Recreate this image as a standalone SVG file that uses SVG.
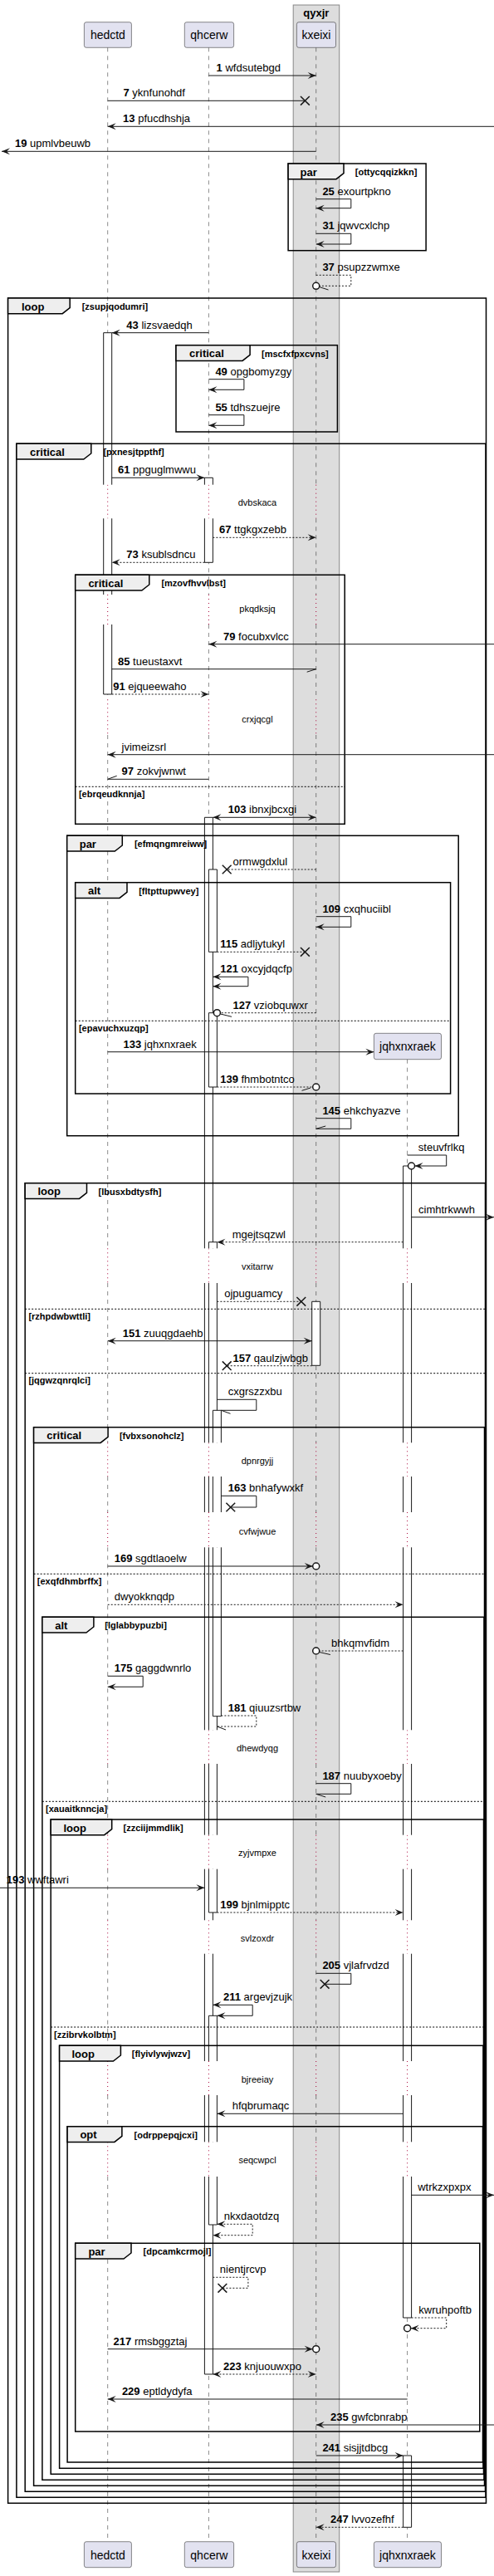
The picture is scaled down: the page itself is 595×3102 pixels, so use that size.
<svg xmlns="http://www.w3.org/2000/svg" width="595" height="3102" viewBox="0 0 595 3102">
<style>
.t{font-family:"Liberation Sans",Arial,sans-serif;font-size:13px;fill:#000}
.b{font-weight:bold}
.pt{font-family:"Liberation Sans",Arial,sans-serif;font-size:14px;fill:#000;text-anchor:middle}
.dt{font-family:"Liberation Sans",Arial,sans-serif;font-size:11px;fill:#000;text-anchor:middle}
.kd{font-family:"Liberation Sans",Arial,sans-serif;font-size:13px;font-weight:bold;fill:#000}
.gd{font-family:"Liberation Sans",Arial,sans-serif;font-size:11px;font-weight:bold;fill:#000}
.pb{fill:#E2E2F0;stroke:#181818;stroke-width:0.5}
.ll{stroke:#181818;stroke-width:0.5;stroke-dasharray:5,5;fill:none}
.dl{stroke:#A80036;stroke-width:1;stroke-dasharray:1,4;fill:none}
.fr{fill:none;stroke:#000;stroke-width:1.5}
.tab{fill:#EEEEEE;stroke:#000;stroke-width:1.5}
.el{stroke:#000;stroke-width:1;stroke-dasharray:2,2;fill:none}
.ar{fill:#fff;stroke:none}
.al{fill:none;stroke:#181818;stroke-width:1}
.m{fill:none;stroke:#181818;stroke-width:1}
.ds{stroke-dasharray:2,2}
.x{stroke:#181818;stroke-width:1.5;fill:none}
.c{fill:#fff;stroke:#181818;stroke-width:1.5}
</style>
<defs>
<marker id="a" viewBox="-11 -5 12 10" refX="0" refY="0" markerWidth="12" markerHeight="10" markerUnits="userSpaceOnUse" orient="auto-start-reverse"><path d="M0,0 L-10,-4 L-6,0 L-10,4 Z" fill="#181818"/></marker>
</defs>

<g id="box-qyxjr">
<rect x="353.2" y="6" width="55.5" height="3091" fill="#DDDDDD" stroke="#888" stroke-width="1"/>
<text class="kd" x="380.9" y="19.5" text-anchor="middle">qyxjr</text>
</g>

<g id="lifelines">
<path class="ll" d="M129.7,57.3V583.7M129.7,624.3V716M129.7,752V842.3M129.7,885V1503.3M129.7,1545V1737.3M129.7,1778V1821M129.7,1863.3V2083.3M129.7,2124V2209.7M129.7,2250.7V2312.3M129.7,2352.7V2482M129.7,2523V2579.3M129.7,2621V3060.7"/>
<path class="ll" d="M251.4,57.3V583.7M251.4,624.3V716M251.4,752V842.3M251.4,885V1503.3M251.4,1545V1737.3M251.4,1778V1821M251.4,1863.3V2083.3M251.4,2124V2209.7M251.4,2250.7V2312.3M251.4,2352.7V2482M251.4,2523V2579.3M251.4,2621V3060.7"/>
<path class="ll" d="M380.7,57.3V583.7M380.7,624.3V716M380.7,752V842.3M380.7,885V1503.3M380.7,1545V1737.3M380.7,1778V1821M380.7,1863.3V2083.3M380.7,2124V2209.7M380.7,2250.7V2312.3M380.7,2352.7V2482M380.7,2523V2579.3M380.7,2621V3060.7"/>
<path class="ll" d="M490.6,1275.7V1503.3M490.6,1545V1737.3M490.6,1778V1821M490.6,1863.3V2083.3M490.6,2124V2209.7M490.6,2250.7V2312.3M490.6,2352.7V2482M490.6,2523V2579.3M490.6,2621V3060.7"/>
<path class="dl" d="M129.7,583.7V624.3M251.4,583.7V624.3M380.7,583.7V624.3M129.7,716V752M251.4,716V752M380.7,716V752M129.7,842.3V885M251.4,842.3V885M380.7,842.3V885"/>
<path class="dl" d="M129.7,1503.3V1545M251.4,1503.3V1545M380.7,1503.3V1545M490.6,1503.3V1545M129.7,1737.3V1778M251.4,1737.3V1778M380.7,1737.3V1778M490.6,1737.3V1778M129.7,1821V1863.3M251.4,1821V1863.3M380.7,1821V1863.3M490.6,1821V1863.3M129.7,2083.3V2124M251.4,2083.3V2124M380.7,2083.3V2124M490.6,2083.3V2124M129.7,2209.7V2250.7M251.4,2209.7V2250.7M380.7,2209.7V2250.7M490.6,2209.7V2250.7M129.7,2312.3V2352.7M251.4,2312.3V2352.7M380.7,2312.3V2352.7M490.6,2312.3V2352.7M129.7,2482V2523M251.4,2482V2523M380.7,2482V2523M490.6,2482V2523M129.7,2579.3V2621M251.4,2579.3V2621M380.7,2579.3V2621M490.6,2579.3V2621"/>
</g>

<g id="delays">
<text class="dt" x="310" y="609.3">dvbskaca</text>
<text class="dt" x="310" y="737.3">pkqdksjq</text>
<text class="dt" x="310" y="869.7">crxjqcgl</text>
<text class="dt" x="310" y="1529">vxitarrw</text>
<text class="dt" x="310" y="1762.7">dpnrgyjj</text>
<text class="dt" x="310" y="1848.3">cvfwjwue</text>
<text class="dt" x="310" y="2108.7">dhewdyqg</text>
<text class="dt" x="310" y="2235.3">zyjvmpxe</text>
<text class="dt" x="310" y="2337.7">svlzoxdr</text>
<text class="dt" x="310" y="2507.7">bjreeiay</text>
<text class="dt" x="310" y="2605">seqcwpcl</text>
</g>

<g id="activations">
<g id="act-hedctd-1">
<rect class="ar" x="124.7" y="400.7" width="10" height="183"/><rect class="ar" x="124.7" y="624.3" width="10" height="91.7"/><rect class="ar" x="124.7" y="752" width="10" height="84"/>
<path class="al" d="M124.7,400.7H134.7M124.7,400.7V583.7M134.7,400.7V583.7M124.7,624.3V716M134.7,624.3V716M124.7,752V836M134.7,752V836M124.7,836H134.7"/>
</g>
<g id="act-qhcerw-1">
<rect class="ar" x="246.4" y="575.3" width="10" height="8.4"/><rect class="ar" x="246.4" y="624.3" width="10" height="53"/>
<path class="al" d="M246.4,575.3H256.4M246.4,575.3V583.7M256.4,575.3V583.7M246.4,624.3V677.3M256.4,624.3V677.3M246.4,677.3H256.4"/>
</g>
<g id="act-qhcerw-2">
<rect class="ar" x="246.4" y="984.3" width="10" height="519"/><rect class="ar" x="246.4" y="1545" width="10" height="192.3"/><rect class="ar" x="246.4" y="1778" width="10" height="43"/><rect class="ar" x="246.4" y="1863.3" width="10" height="220"/><rect class="ar" x="246.4" y="2124" width="10" height="85.7"/><rect class="ar" x="246.4" y="2250.7" width="10" height="61.6"/><rect class="ar" x="246.4" y="2352.7" width="10" height="129.3"/><rect class="ar" x="246.4" y="2523" width="10" height="56.3"/><rect class="ar" x="246.4" y="2621" width="10" height="238"/>
<path class="al" d="M246.4,984.3H256.4M246.4,984.3V1503.3M256.4,984.3V1503.3M246.4,1545V1737.3M256.4,1545V1737.3M246.4,1778V1821M256.4,1778V1821M246.4,1863.3V2083.3M256.4,1863.3V2083.3M246.4,2124V2209.7M256.4,2124V2209.7M246.4,2250.7V2312.3M256.4,2250.7V2312.3M246.4,2352.7V2482M256.4,2352.7V2482M246.4,2523V2579.3M256.4,2523V2579.3M246.4,2621V2859M256.4,2621V2859M246.4,2859H256.4"/>
</g>
<g id="act-qhcerw-3">
<rect class="ar" x="251.4" y="1047" width="10" height="99.3"/>
<path class="al" d="M251.4,1047H261.4V1146.3H251.4Z"/>
</g>
<g id="act-qhcerw-4">
<rect class="ar" x="251.4" y="1219.7" width="10" height="89.3"/>
<path class="al" d="M251.4,1219.7H261.4V1309H251.4Z"/>
</g>
<g id="act-qhcerw-5">
<rect class="ar" x="251.4" y="1495.7" width="10" height="7.6"/><rect class="ar" x="251.4" y="1545" width="10" height="192.3"/><rect class="ar" x="251.4" y="1778" width="10" height="43"/><rect class="ar" x="251.4" y="1863.3" width="10" height="220"/><rect class="ar" x="251.4" y="2124" width="10" height="85.7"/><rect class="ar" x="251.4" y="2250.7" width="10" height="52.3"/>
<path class="al" d="M251.4,1495.7H261.4M251.4,1495.7V1503.3M261.4,1495.7V1503.3M251.4,1545V1737.3M261.4,1545V1737.3M251.4,1778V1821M261.4,1778V1821M251.4,1863.3V2083.3M261.4,1863.3V2083.3M251.4,2124V2209.7M261.4,2124V2209.7M251.4,2250.7V2303M261.4,2250.7V2303M251.4,2303H261.4"/>
</g>
<g id="act-qhcerw-6">
<rect class="ar" x="256.4" y="1698.3" width="10" height="39"/><rect class="ar" x="256.4" y="1778" width="10" height="43"/><rect class="ar" x="256.4" y="1863.3" width="10" height="203.4"/>
<path class="al" d="M256.4,1698.3H266.4M256.4,1698.3V1737.3M266.4,1698.3V1737.3M256.4,1778V1821M266.4,1778V1821M256.4,1863.3V2066.7M266.4,1863.3V2066.7M256.4,2066.7H266.4"/>
</g>
<g id="act-qhcerw-7">
<rect class="ar" x="251.4" y="2427.3" width="10" height="54.7"/><rect class="ar" x="251.4" y="2523" width="10" height="56.3"/><rect class="ar" x="251.4" y="2621" width="10" height="58"/>
<path class="al" d="M251.4,2427.3H261.4M251.4,2427.3V2482M261.4,2427.3V2482M251.4,2523V2579.3M261.4,2523V2579.3M251.4,2621V2679M261.4,2621V2679M251.4,2679H261.4"/>
</g>
<g id="act-jqhxnxraek-1">
<rect class="ar" x="485.6" y="1404" width="10" height="99.3"/><rect class="ar" x="485.6" y="1545" width="10" height="192.3"/><rect class="ar" x="485.6" y="1778" width="10" height="43"/><rect class="ar" x="485.6" y="1863.3" width="10" height="220"/><rect class="ar" x="485.6" y="2124" width="10" height="85.7"/><rect class="ar" x="485.6" y="2250.7" width="10" height="61.6"/><rect class="ar" x="485.6" y="2352.7" width="10" height="129.3"/><rect class="ar" x="485.6" y="2523" width="10" height="56.3"/><rect class="ar" x="485.6" y="2621" width="10" height="170"/>
<path class="al" d="M485.6,1404H495.6M485.6,1404V1503.3M495.6,1404V1503.3M485.6,1545V1737.3M495.6,1545V1737.3M485.6,1778V1821M495.6,1778V1821M485.6,1863.3V2083.3M495.6,1863.3V2083.3M485.6,2124V2209.7M495.6,2124V2209.7M485.6,2250.7V2312.3M495.6,2250.7V2312.3M485.6,2352.7V2482M495.6,2352.7V2482M485.6,2523V2579.3M495.6,2523V2579.3M485.6,2621V2791M495.6,2621V2791M485.6,2791H495.6"/>
</g>
<g id="act-kxeixi-1">
<rect class="ar" x="375.7" y="1567.3" width="10" height="77"/>
<path class="al" d="M375.7,1567.3H385.7V1644.3H375.7Z"/>
</g>
<g id="act-jqhxnxraek-2">
<rect class="ar" x="485.6" y="2957" width="10" height="86.3"/>
<path class="al" d="M485.6,2957H495.6V3043.3H485.6Z"/>
</g>
</g>

<g id="frames">
<g id="par-ottycqqizkkn">
<rect class="fr" x="347.1" y="197" width="166" height="104.7"/>
<path class="tab" d="M347.1,197H414V208.7L405,215.7H347.1Z"/>
<text class="kd" x="361.6" y="211.5">par</text>
<text class="gd" x="427.8" y="211">[ottycqqizkkn]</text>
</g>
<g id="loop-zsupjqodumri">
<rect class="fr" x="9.6" y="359" width="575.9" height="2655.3"/>
<path class="tab" d="M9.6,359H84.2V370.7L75.2,377.7H9.6Z"/>
<text class="kd" x="26" y="373.5">loop</text>
<text class="gd" x="98.7" y="373">[zsupjqodumri]</text>
</g>
<g id="critical-mscfxfpxcvns">
<rect class="fr" x="212" y="415.7" width="194.4" height="104.3"/>
<path class="tab" d="M212,415.7H301.1V427.4L292.1,434.4H212Z"/>
<text class="kd" x="228" y="430.2">critical</text>
<text class="gd" x="315" y="429.7">[mscfxfpxcvns]</text>
</g>
<g id="critical-pxnesjtppthf">
<rect class="fr" x="19.9" y="534.3" width="565.1" height="2473"/>
<path class="tab" d="M19.9,534.3H109.8V546L100.8,553H19.9Z"/>
<text class="kd" x="36" y="548.8">critical</text>
<text class="gd" x="124.4" y="548.3">[pxnesjtppthf]</text>
</g>
<g id="critical-mzovfhvvlbst">
<rect class="fr" x="90.7" y="692.3" width="324.5" height="300"/>
<path class="tab" d="M90.7,692.3H179.8V704L170.8,711H90.7Z"/>
<text class="kd" x="106.4" y="706.8">critical</text>
<text class="gd" x="194.4" y="706.3">[mzovfhvvlbst]</text>
<path class="el" d="M90.7,947.3H415.2"/>
<text class="gd" x="94.9" y="959.8">[ebrqeudknnja]</text>
</g>
<g id="par-efmqngmreiww">
<rect class="fr" x="80.7" y="1006.3" width="471.5" height="361.4"/>
<path class="tab" d="M80.7,1006.3H147.3V1018L138.3,1025H80.7Z"/>
<text class="kd" x="95.7" y="1020.8">par</text>
<text class="gd" x="161.9" y="1020.3">[efmqngmreiww]</text>
</g>
<g id="alt-fltpttupwvey">
<rect class="fr" x="90.7" y="1062.7" width="451.9" height="254.3"/>
<path class="tab" d="M90.7,1062.7H153V1074.4L144,1081.4H90.7Z"/>
<text class="kd" x="106" y="1077.2">alt</text>
<text class="gd" x="167.2" y="1076.7">[fltpttupwvey]</text>
<path class="el" d="M90.7,1229.3H542.6"/>
<text class="gd" x="94.9" y="1241.8">[epavuchxuzqp]</text>
</g>
<g id="loop-lbusxbdtysfh">
<rect class="fr" x="30.2" y="1424.7" width="554.3" height="1575.6"/>
<path class="tab" d="M30.2,1424.7H104.5V1436.4L95.5,1443.4H30.2Z"/>
<text class="kd" x="45.5" y="1439.2">loop</text>
<text class="gd" x="118.6" y="1438.7">[lbusxbdtysfh]</text>
<path class="el" d="M30.2,1576.3H584.5"/>
<text class="gd" x="34.4" y="1588.8">[rzhpdwbwttli]</text>
<path class="el" d="M30.2,1653.7H584.5"/>
<text class="gd" x="34.4" y="1666.2">[jqgwzqnrqlci]</text>
</g>
<g id="critical-fvbxsonohclz">
<rect class="fr" x="40.6" y="1718.7" width="542.9" height="1274.6"/>
<path class="tab" d="M40.6,1718.7H130.1V1730.4L121.1,1737.4H40.6Z"/>
<text class="kd" x="56.3" y="1733.2">critical</text>
<text class="gd" x="143.9" y="1732.7">[fvbxsonohclz]</text>
<path class="el" d="M40.6,1895.3H583.5"/>
<text class="gd" x="44.8" y="1907.8">[exqfdhmbrffx]</text>
</g>
<g id="alt-lglabbypuzbi">
<rect class="fr" x="50.9" y="1947.3" width="532.1" height="1039"/>
<path class="tab" d="M50.9,1947.3H112.9V1959L103.9,1966H50.9Z"/>
<text class="kd" x="66.2" y="1961.8">alt</text>
<text class="gd" x="126.3" y="1961.3">[lglabbypuzbi]</text>
<path class="el" d="M50.9,2169.3H583"/>
<text class="gd" x="55.1" y="2181.8">[xauaitknncja]</text>
</g>
<g id="loop-zzciijmmdlik">
<rect class="fr" x="61.2" y="2191" width="521.3" height="788.3"/>
<path class="tab" d="M61.2,2191H134.7V2202.7L125.7,2209.7H61.2Z"/>
<text class="kd" x="76.5" y="2205.5">loop</text>
<text class="gd" x="148.5" y="2205">[zzciijmmdlik]</text>
<path class="el" d="M61.2,2441H582.5"/>
<text class="gd" x="65" y="2453.5">[zzibrvkolbtm]</text>
</g>
<g id="loop-flyivlywjwzv">
<rect class="fr" x="71.6" y="2463.3" width="510.4" height="509"/>
<path class="tab" d="M71.6,2463.3H145.4V2475L136.4,2482H71.6Z"/>
<text class="kd" x="86.5" y="2477.8">loop</text>
<text class="gd" x="158.8" y="2477.3">[flyivlywjwzv]</text>
</g>
<g id="opt-odrppepqjcxi">
<rect class="fr" x="81.1" y="2560.7" width="500.4" height="404.3"/>
<path class="tab" d="M81.1,2560.7H146.9V2572.4L137.9,2579.4H81.1Z"/>
<text class="kd" x="96.4" y="2575.2">opt</text>
<text class="gd" x="161.5" y="2574.7">[odrppepqjcxi]</text>
</g>
<g id="par-dpcamkcrmojl">
<rect class="fr" x="90.7" y="2701.3" width="487.1" height="226.7"/>
<path class="tab" d="M90.7,2701.3H158V2713L149,2720H90.7Z"/>
<text class="kd" x="106.4" y="2715.8">par</text>
<text class="gd" x="172.6" y="2715.3">[dpcamkcrmojl]</text>
</g>
</g>

<g id="connectors">
<path class="m" marker-end="url(#a)" d="M251.4,91H380.7"/>
<text class="t" x="260.6" y="86"><tspan class="b">1</tspan> wfdsutebgd</text>
<path class="m" d="M129.7,121.3H367.4"/><path class="x" d="M362,116L372.8,126.6M372.8,116L362,126.6"/>
<text class="t" x="148.5" y="116.3"><tspan class="b">7</tspan> yknfunohdf</text>
<path class="m" marker-end="url(#a)" d="M595,152.3H129.7"/>
<text class="t" x="148.1" y="147.3"><tspan class="b">13</tspan> pfucdhshja</text>
<path class="m" marker-end="url(#a)" d="M380.7,182.3H2"/>
<text class="t" x="18" y="177.3"><tspan class="b">19</tspan> upmlvbeuwb</text>
<path class="m" marker-end="url(#a)" d="M380.7,239.7H422.8V250.7H380.7"/>
<text class="t" x="388.4" y="234.7"><tspan class="b">25</tspan> exourtpkno</text>
<path class="m" marker-end="url(#a)" d="M380.7,281.3H422.8V294H380.7"/>
<text class="t" x="388.4" y="276.3"><tspan class="b">31</tspan> jqwvcxlchp</text>
<path class="m ds" d="M380.7,331.3H422.8V344.3H384.7"/><path class="m" d="M384.5,345.5L395.5,349"/><circle class="c" cx="380.7" cy="344.3" r="4"/>
<text class="t" x="388.4" y="326.3"><tspan class="b">37</tspan> psupzzwmxe</text>
<path class="m" marker-end="url(#a)" d="M251.4,400.7H134.7"/>
<text class="t" x="152.3" y="395.7"><tspan class="b">43</tspan> lizsvaedqh</text>
<path class="m" marker-end="url(#a)" d="M251.4,456.7H293.9V469.3H251.4"/>
<text class="t" x="259.4" y="451.7"><tspan class="b">49</tspan> opgbomyzgy</text>
<path class="m" marker-end="url(#a)" d="M251.4,499.7H293.9V512.3H251.4"/>
<text class="t" x="259.4" y="494.7"><tspan class="b">55</tspan> tdhszuejre</text>
<path class="m" marker-end="url(#a)" d="M134.7,575.3H246.4"/>
<text class="t" x="142" y="570.3"><tspan class="b">61</tspan> ppguglmwwu</text>
<path class="m ds" marker-end="url(#a)" d="M256.4,647.3H380.7"/>
<text class="t" x="264" y="642.3"><tspan class="b">67</tspan> ttgkgxzebb</text>
<path class="m ds" marker-end="url(#a)" d="M246.4,677.3H134.7"/>
<text class="t" x="152.3" y="672.3"><tspan class="b">73</tspan> ksublsdncu</text>
<path class="m" marker-end="url(#a)" d="M595,775.7H251.4"/>
<text class="t" x="269" y="770.7"><tspan class="b">79</tspan> focubxvlcc</text>
<path class="m" d="M134.7,805.7H380.7L369.7,809.2"/>
<text class="t" x="142" y="800.7"><tspan class="b">85</tspan> tueustaxvt</text>
<path class="m ds" marker-end="url(#a)" d="M134.7,836H251.4"/>
<text class="t" x="136.2" y="831"><tspan class="b">91</tspan> ejqueewaho</text>
<path class="m" marker-end="url(#a)" d="M595,908.7H129.7"/>
<text class="t" x="146.6" y="903.7">jvimeizsrl</text>
<path class="m" d="M251.4,938.3H129.7L140.7,934.3"/>
<text class="t" x="146.6" y="933.3"><tspan class="b">97</tspan> zokvjwnwt</text>
<path class="m" marker-start="url(#a)" marker-end="url(#a)" d="M256.4,984.3H380.7"/>
<text class="t" x="274.8" y="979.3"><tspan class="b">103</tspan> ibnxjbcxgi</text>
<path class="m ds" d="M380.7,1047H273.2"/><path class="x" d="M267.8,1041.7L278.6,1052.3M278.6,1041.7L267.8,1052.3"/>
<text class="t" x="280.5" y="1042">ormwgdxlul</text>
<path class="m" marker-end="url(#a)" d="M380.7,1103.7H422.8V1116.3H380.7"/>
<text class="t" x="388.4" y="1098.7"><tspan class="b">109</tspan> cxqhuciibl</text>
<path class="m ds" d="M261.4,1146.3H367.4"/><path class="x" d="M362,1141L372.8,1151.6M372.8,1141L362,1151.6"/>
<text class="t" x="265.2" y="1141.3"><tspan class="b">115</tspan> adljytukyl</text>
<path class="m" marker-start="url(#a)" marker-end="url(#a)" d="M256.4,1176.3H298.9V1187.7H256.4"/>
<text class="t" x="265.2" y="1171.3"><tspan class="b">121</tspan> oxcyjdqcfp</text>
<path class="m ds" d="M380.7,1219.7H265.4"/><path class="m" d="M265.5,1221L279,1224.3"/><circle class="c" cx="261.4" cy="1219.7" r="4"/>
<text class="t" x="280.5" y="1214.7"><tspan class="b">127</tspan> vziobquwxr</text>
<path class="m" marker-end="url(#a)" d="M129.7,1266.7H450.4"/>
<text class="t" x="148.5" y="1261.7"><tspan class="b">133</tspan> jqhxnxraek</text>
<path class="m ds" d="M261.4,1309H376.7"/><path class="m" d="M374,1310L363.5,1313.3"/><circle class="c" cx="380.7" cy="1309" r="4"/>
<text class="t" x="265.2" y="1304"><tspan class="b">139</tspan> fhmbotntco</text>
<path class="m" d="M380.7,1346.7H422.8V1359.3H380.7L392.2,1356"/>
<text class="t" x="388.4" y="1341.7"><tspan class="b">145</tspan> ehkchyazve</text>
<path class="m" marker-end="url(#a)" d="M490.6,1391H537.7V1404H499.5"/><circle class="c" cx="495.5" cy="1404" r="4"/>
<text class="t" x="503.8" y="1386">steuvfrlkq</text>
<path class="m" marker-end="url(#a)" d="M495.6,1465.7H595"/>
<text class="t" x="504" y="1460.7">cimhtrkwwh</text>
<path class="m ds" marker-end="url(#a)" d="M485.6,1495.7H261.4"/>
<text class="t" x="279.7" y="1490.7">mgejtsqzwl</text>
<path class="m ds" d="M261.4,1567.3H362.8"/><path class="x" d="M357.4,1562L368.2,1572.6M368.2,1562L357.4,1572.6"/>
<text class="t" x="270.2" y="1562.3">ojpuguamcy</text>
<path class="m" marker-start="url(#a)" marker-end="url(#a)" d="M129.7,1614.7H375.7"/>
<text class="t" x="147.7" y="1609.7"><tspan class="b">151</tspan> zuuqgdaehb</text>
<path class="m ds" d="M375.7,1644.7H273.2"/><path class="x" d="M267.8,1639.4L278.6,1650M278.6,1639.4L267.8,1650"/>
<text class="t" x="280.5" y="1639.7"><tspan class="b">157</tspan> qaulzjwbgb</text>
<path class="m" d="M261.4,1685.3H308.8V1698.3H266.4L277.5,1702.3"/>
<text class="t" x="274.8" y="1680.3">cxgrszzxbu</text>
<path class="m" d="M266.4,1801.3H308.8V1815H277.8"/><path class="x" d="M272.4,1809.7L283.2,1820.3M283.2,1809.7L272.4,1820.3"/>
<text class="t" x="274.8" y="1796.3"><tspan class="b">163</tspan> bnhafywxkf</text>
<path class="m" marker-end="url(#a)" d="M129.7,1886H376.7"/><circle class="c" cx="380.7" cy="1886" r="4"/>
<text class="t" x="137.8" y="1881"><tspan class="b">169</tspan> sgdtlaoelw</text>
<path class="m ds" marker-end="url(#a)" d="M129.7,1932.3H485.6"/>
<text class="t" x="137.8" y="1927.3">dwyokknqdp</text>
<path class="m ds" d="M485.6,1988H384.7"/><path class="m" d="M384.5,1989.5L397.9,1992.5"/><circle class="c" cx="380.7" cy="1988" r="4"/>
<text class="t" x="399.1" y="1983">bhkqmvfidm</text>
<path class="m" marker-end="url(#a)" d="M129.7,2018.3H172.2V2031.3H129.7"/>
<text class="t" x="137.8" y="2013.3"><tspan class="b">175</tspan> gaggdwnrlo</text>
<path class="m ds" d="M266.4,2066H308.8V2079H261.4"/><path class="m" d="M261.4,2079L272,2083"/>
<text class="t" x="274.8" y="2061"><tspan class="b">181</tspan> qiuuzsrtbw</text>
<path class="m" d="M380.7,2147.7H422.8V2160.3H380.7L392.2,2164"/>
<text class="t" x="388.4" y="2142.7"><tspan class="b">187</tspan> nuubyxoeby</text>
<path class="m" marker-end="url(#a)" d="M0,2273.3H246.4"/>
<text class="t" x="7.7" y="2268.3"><tspan class="b">193</tspan> wwftawri</text>
<path class="m ds" marker-end="url(#a)" d="M261.4,2303H485.6"/>
<text class="t" x="265.2" y="2298"><tspan class="b">199</tspan> bjnlmipptc</text>
<path class="m" d="M380.7,2376.3H422.8V2389.3H391.1"/><path class="x" d="M385.7,2384L396.5,2394.6M396.5,2384L385.7,2394.6"/>
<text class="t" x="388.4" y="2371.3"><tspan class="b">205</tspan> vjlafrvdzd</text>
<path class="m" marker-start="url(#a)" marker-end="url(#a)" d="M256.4,2414.3H304.2V2427.3H261.4"/>
<text class="t" x="269" y="2409.3"><tspan class="b">211</tspan> argevjzujk</text>
<path class="m" marker-end="url(#a)" d="M485.6,2545.3H261.4"/>
<text class="t" x="279.7" y="2540.3">hfqbrumaqc</text>
<path class="m" marker-end="url(#a)" d="M495.6,2643.3H595"/>
<text class="t" x="503.2" y="2638.3">wtrkzxpxpx</text>
<path class="m ds" marker-start="url(#a)" marker-end="url(#a)" d="M261.4,2678.3H304.2V2691.7H256.4"/>
<text class="t" x="269.8" y="2673.3">nkxdaotdzq</text>
<path class="m ds" d="M256.4,2742.3H298.9V2755.3H267.9"/><path class="x" d="M262.5,2750L273.3,2760.6M273.3,2750L262.5,2760.6"/>
<text class="t" x="264.8" y="2737.3">nientjrcvp</text>
<path class="m ds" marker-end="url(#a)" d="M495.6,2791H537.7V2803.7H494.6"/><circle class="c" cx="490.6" cy="2803.7" r="4"/>
<text class="t" x="504.3" y="2786">kwruhpoftb</text>
<path class="m" marker-end="url(#a)" d="M129.7,2828.7H376.7"/><circle class="c" cx="380.7" cy="2828.7" r="4"/>
<text class="t" x="136.6" y="2823.7"><tspan class="b">217</tspan> rmsbggztaj</text>
<path class="m ds" marker-start="url(#a)" marker-end="url(#a)" d="M256.4,2859H380.7"/>
<text class="t" x="269" y="2854"><tspan class="b">223</tspan> knjuouwxpo</text>
<path class="m" marker-end="url(#a)" d="M490.6,2889H129.7"/>
<text class="t" x="146.9" y="2884"><tspan class="b">229</tspan> eptldydyfa</text>
<path class="m" marker-end="url(#a)" d="M595,2920H380.7"/>
<text class="t" x="398" y="2915"><tspan class="b">235</tspan> gwfcbnrabp</text>
<path class="m" marker-end="url(#a)" d="M380.7,2957H485.6"/>
<text class="t" x="388.4" y="2952"><tspan class="b">241</tspan> sisjjtdbcg</text>
<path class="m ds" marker-end="url(#a)" d="M485.6,3043.3H380.7"/>
<text class="t" x="398" y="3038.3"><tspan class="b">247</tspan> lvvozefhf</text>
</g>

<g id="hedctd">
<rect class="pb" x="101.4" y="26.7" width="57" height="30.6" rx="2.5"/>
<text class="pt" x="129.9" y="47.3">hedctd</text>
<rect class="pb" x="101.4" y="3060.7" width="57" height="31" rx="2.5"/>
<text class="pt" x="129.9" y="3081.5">hedctd</text>
</g>
<g id="qhcerw">
<rect class="pb" x="222.3" y="26.7" width="59.3" height="30.6" rx="2.5"/>
<text class="pt" x="251.9" y="47.3">qhcerw</text>
<rect class="pb" x="222.3" y="3060.7" width="59.3" height="31" rx="2.5"/>
<text class="pt" x="251.9" y="3081.5">qhcerw</text>
</g>
<g id="kxeixi">
<rect class="pb" x="357.4" y="26.7" width="47.1" height="30.6" rx="2.5"/>
<text class="pt" x="380.9" y="47.3">kxeixi</text>
<rect class="pb" x="357.4" y="3060.7" width="47.1" height="31" rx="2.5"/>
<text class="pt" x="380.9" y="3081.5">kxeixi</text>
</g>
<g id="jqhxnxraek">
<rect class="pb" x="450.4" y="1244.3" width="81.1" height="31.4" rx="2.5"/>
<text class="pt" x="490.9" y="1265.3">jqhxnxraek</text>
<rect class="pb" x="450.4" y="3060.7" width="81.1" height="31" rx="2.5"/>
<text class="pt" x="490.9" y="3081.5">jqhxnxraek</text>
</g>
</svg>
